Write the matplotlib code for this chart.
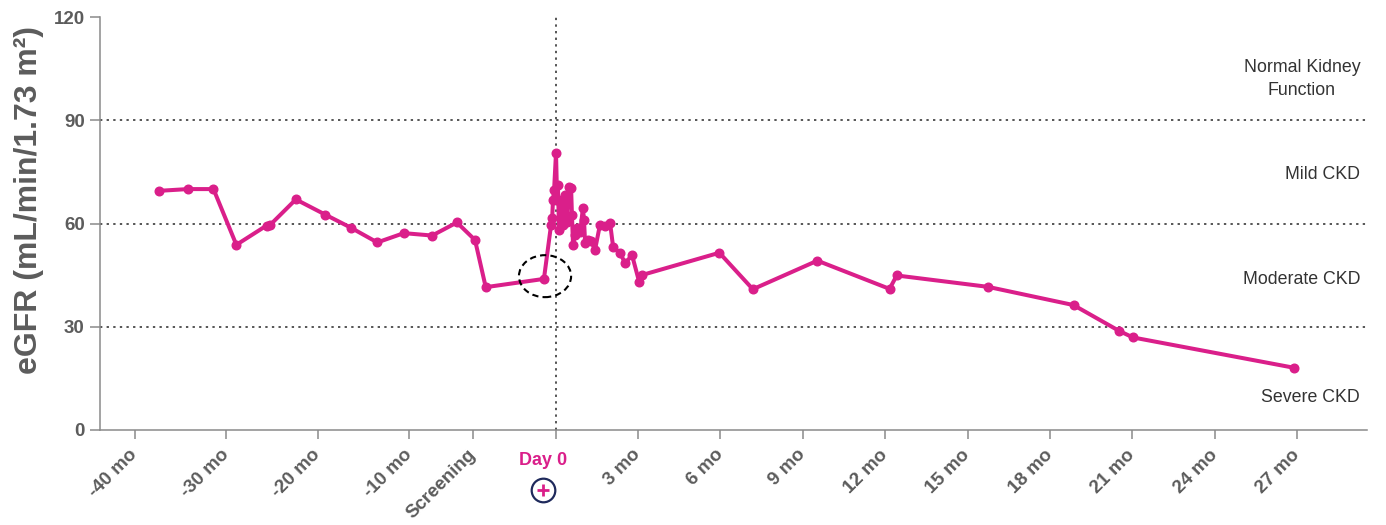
import numpy as np
import matplotlib
matplotlib.use("Agg")
import matplotlib.pyplot as plt
from matplotlib.patches import Ellipse
from matplotlib.transforms import blended_transform_factory

plt.rcParams['font.family'] = ['Liberation Sans', 'DejaVu Sans']

# eGFR course (months relative to Day 0)
months = [-37.3, -34.2, -31.4, -28.9, -25.6, -25.2, -22.4, -19.2, -16.4, -13.5,
          -10.6, -7.5, -4.8, -2.94, -2.55, -0.43,
          -0.17, -0.13, -0.10, -0.06, 0.01, 0.05, 0.08, 0.12, 0.19, 0.27,
          0.34, 0.41, 0.48, 0.56, 0.59, 0.63, 0.70, 0.78, 0.89, 0.99,
          1.03, 1.07, 1.18, 1.29, 1.43, 1.61, 1.80, 1.98, 2.09, 2.34,
          2.53, 2.78, 3.04, 3.13,
          5.96, 7.18, 9.53, 12.16, 12.42, 15.74, 18.86, 20.52, 21.02, 26.88]
egfr = [69.5, 70.0, 70.0, 53.8, 59.4, 59.6, 67.0, 62.6, 58.8, 54.5,
        57.2, 56.5, 60.3, 55.2, 41.5, 43.9,
        59.6, 61.6, 66.8, 69.7, 80.6, 66.8, 71.2, 58.1, 66.8, 59.6,
        68.3, 60.4, 70.6, 70.3, 62.5, 53.8, 56.7, 58.7, 57.5, 64.5,
        61.0, 54.3, 55.2, 54.9, 52.3, 59.6, 59.3, 60.1, 53.2, 51.4,
        48.5, 50.8, 43.0, 45.0,
        51.5, 40.9, 49.2, 41.0, 44.9, 41.6, 36.3, 28.8, 26.9, 18.1]

tick_months = [-40, -30, -20, -10, -3, 0, 3, 6, 9, 12, 15, 18, 21, 24, 27]
tick_labels = ['-40 mo', '-30 mo', '-20 mo', '-10 mo', 'Screening', '',
               '3 mo', '6 mo', '9 mo', '12 mo', '15 mo', '18 mo', '21 mo',
               '24 mo', '27 mo']

y_ticks = [0, 30, 60, 90, 120]
thresholds = [30, 60, 90]
zones = ['Normal Kidney\nFunction', 'Mild CKD', 'Moderate CKD', 'Severe CKD']
zone_y = [102, 74.1, 43.6, 9.3]

screening_month = -3
highlight_center = (-0.39, 44.7)

PINK = '#DA1F8A'
GREY = '#5c5c5c'


# time before screening is compressed threefold
def fwd(x):
    x = np.asarray(x, dtype=float)
    return np.where(x < screening_month, screening_month + (x - screening_month) / 3.0, x)


def inv(u):
    u = np.asarray(u, dtype=float)
    return np.where(u < screening_month, screening_month + 3.0 * (u - screening_month), u)


fig = plt.figure(figsize=(13.86, 5.25), dpi=100)
ax = fig.add_axes([100 / 1386, 1 - 430 / 525, 1267 / 1386, 413 / 525])
ax.set_xscale('function', functions=(fwd, inv))
ax.set_xlim(-43.8, 29.55)
ax.set_ylim(0, 120)

for t in thresholds:
    ax.axhline(t, color='#555555', lw=1.4, ls=(0, (1.2, 2.2)), zorder=1)
ax.axvline(0, color='#555555', lw=1.4, ls=(0, (1.2, 2.2)), zorder=1, clip_on=False)

ax.plot(months, egfr, color=PINK, lw=2.9, marker='o', ms=6.2, zorder=3,
        solid_joinstyle='round')

ax.add_patch(Ellipse(highlight_center, width=1.9, height=12.2, fill=False,
                     ec='black', lw=1.5, ls=(0, (3, 2)), zorder=4))

ax.spines['top'].set_visible(False)
ax.spines['right'].set_visible(False)
for s in ('left', 'bottom'):
    ax.spines[s].set_color('#8a8a8a')
    ax.spines[s].set_linewidth(1.1)

ax.set_yticks(y_ticks)
ax.set_yticklabels([str(v) for v in y_ticks])
ax.set_xticks(tick_months)
ax.set_xticklabels(tick_labels)
ax.tick_params(axis='y', length=7, width=1.1, color='#8a8a8a', pad=4,
               labelsize=13.5, labelcolor=GREY)
ax.tick_params(axis='x', length=6.5, width=1.1, color='#8a8a8a', pad=9.5,
               labelsize=13.5, labelcolor=GREY)
for lab in ax.get_yticklabels():
    lab.set_fontweight('bold')
for lab in ax.get_xticklabels():
    lab.set_fontweight('bold')
    lab.set_rotation(45)
    lab.set_rotation_mode('anchor')
    lab.set_ha('right')
    lab.set_va('center')

fig.text(29 / 1386, 1 - 200 / 525, 'eGFR (mL/min/1.73 m²)', rotation=90,
         ha='center', va='center', fontsize=23, fontweight='bold', color=GREY)

# zone names on the right
for name, yv in zip(zones, zone_y):
    ax.text(29.3, yv, name, ha='right', va='center', multialignment='center',
            fontsize=12.8, color='#333333', linespacing=1.45)

# Day 0 marker below the axis
bt = blended_transform_factory(ax.transData, ax.transAxes)
ax.text(-0.45, -0.075, 'Day 0', transform=bt, ha='center', va='center',
        fontsize=13, fontweight='bold', color=PINK, clip_on=False)
ax.plot([-0.45], [-0.145], transform=bt, marker='o', ms=17, mfc='white',
        mec='#1f2a5c', mew=1.6, clip_on=False, zorder=5)
ax.plot([-0.45], [-0.145], transform=bt, marker='+', ms=9, mec=PINK,
        mew=2, clip_on=False, zorder=6)

fig.savefig('out.png', dpi=100, facecolor='white')
